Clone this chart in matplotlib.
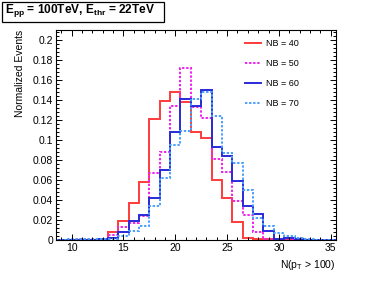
import numpy as np
import matplotlib
matplotlib.use("Agg")
import matplotlib.pyplot as plt
from matplotlib.patches import Rectangle
from matplotlib.ticker import MultipleLocator

plt.rcParams['font.family'] = ['Liberation Sans', 'DejaVu Sans']
plt.rcParams['mathtext.fontset'] = 'custom'
plt.rcParams['mathtext.rm'] = 'Liberation Sans'
plt.rcParams['mathtext.it'] = 'Liberation Sans:italic'
plt.rcParams['mathtext.bf'] = 'Liberation Sans:bold'

# bin centres: N(pT > 100) = 9 ... 35
n_bins = list(range(9, 36))

#            9  10  11  12  13     14     15     16     17     18     19     20     21     22     23     24     25     26     27     28     29     30     31     32     33  34  35
nb40 = [0, 0, 0, 0, 0, 0.008, 0.019, 0.037, 0.058, 0.121, 0.139, 0.148, 0.138, 0.108, 0.102, 0.060, 0.042, 0.018, 0.002, 0.001, 0.001, 0, 0, 0, 0, 0, 0]
nb50 = [0, 0, 0.001, 0.001, 0.001, 0.005, 0.013, 0.017, 0.024, 0.067, 0.088, 0.134, 0.172, 0.133, 0.122, 0.081, 0.068, 0.039, 0.025, 0.008, 0.001, 0, 0, 0, 0, 0, 0]
nb60 = [0, 0, 0, 0, 0.001, 0.002, 0.008, 0.0186, 0.025, 0.042, 0.070, 0.108, 0.141, 0.134, 0.150, 0.093, 0.084, 0.0595, 0.034, 0.026, 0.009, 0.001, 0.002, 0.001, 0, 0, 0]
nb70 = [0, 0.001, 0.001, 0.001, 0.001, 0.001, 0.004, 0.009, 0.014, 0.034, 0.062, 0.095, 0.109, 0.141, 0.148, 0.124, 0.087, 0.077, 0.050, 0.022, 0.014, 0.007, 0.004, 0.002, 0.001, 0, 0]

labels = ["NB = 40", "NB = 50", "NB = 60", "NB = 70"]
colors = ["#ff3b3b", "#f020f0", "#2a2ad8", "#4aa0ff"]
styles = ["-", (0, (1.2, 0.9)), "-", (0, (1.2, 0.9))]

edges = np.concatenate([np.array(n_bins) - 0.5, [n_bins[-1] + 0.5]])

fig = plt.figure(figsize=(3.74, 2.82), dpi=100)
ax = fig.add_axes([0.1497, 0.1489, 0.7487, 0.7447])

for vals, lab, c, ls in zip([nb40, nb50, nb60, nb70], labels, colors, styles):
    ax.stairs(vals, edges, color=c, linestyle=ls, linewidth=1.4, label=lab, baseline=None)

ax.set_xlim(8.5, 35.5)
ax.set_ylim(0, 0.21)
ax.xaxis.set_major_locator(MultipleLocator(5))
ax.xaxis.set_minor_locator(MultipleLocator(1))
ax.yaxis.set_minor_locator(MultipleLocator(0.004))
ax.set_yticks([0, 0.02, 0.04, 0.06, 0.08, 0.1, 0.12, 0.14, 0.16, 0.18, 0.2])
ax.set_yticklabels(["0", "0.02", "0.04", "0.06", "0.08", "0.1", "0.12", "0.14", "0.16", "0.18", "0.2"])
ax.tick_params(which='both', direction='in', top=True, right=True, labelsize=7.5, width=0.7, pad=2)
ax.tick_params(which='major', length=4.5)
ax.tick_params(which='minor', length=2.2)
for sp in ax.spines.values():
    sp.set_linewidth(0.8)

ax.set_xlabel("N(p$_{\\mathrm{T}}$ > 100)", fontsize=7.5, loc='right', labelpad=4)
ax.set_ylabel("Normalized Events", fontsize=7.5, loc='top', labelpad=6)

leg = ax.legend(loc='upper left', bbox_to_anchor=(0.675, 0.955), frameon=False, fontsize=6.5,
                handlelength=1.8, labelspacing=1.2, handletextpad=0.55,
                borderpad=0, borderaxespad=0)

# title box
fig.patches.append(Rectangle((2 / 374, 1 - 22 / 282), 162 / 374, 20 / 282, transform=fig.transFigure,
                             facecolor='white', edgecolor='black', linewidth=0.9))
fig.text(5 / 374, 1 - 11 / 282, "E$_{\\mathbf{pp}}$ = 100TeV, E$_{\\mathbf{thr}}$ = 22TeV",
         fontsize=8.6, fontweight='bold', va='center', ha='left')

fig.savefig("out.png", dpi=100)
